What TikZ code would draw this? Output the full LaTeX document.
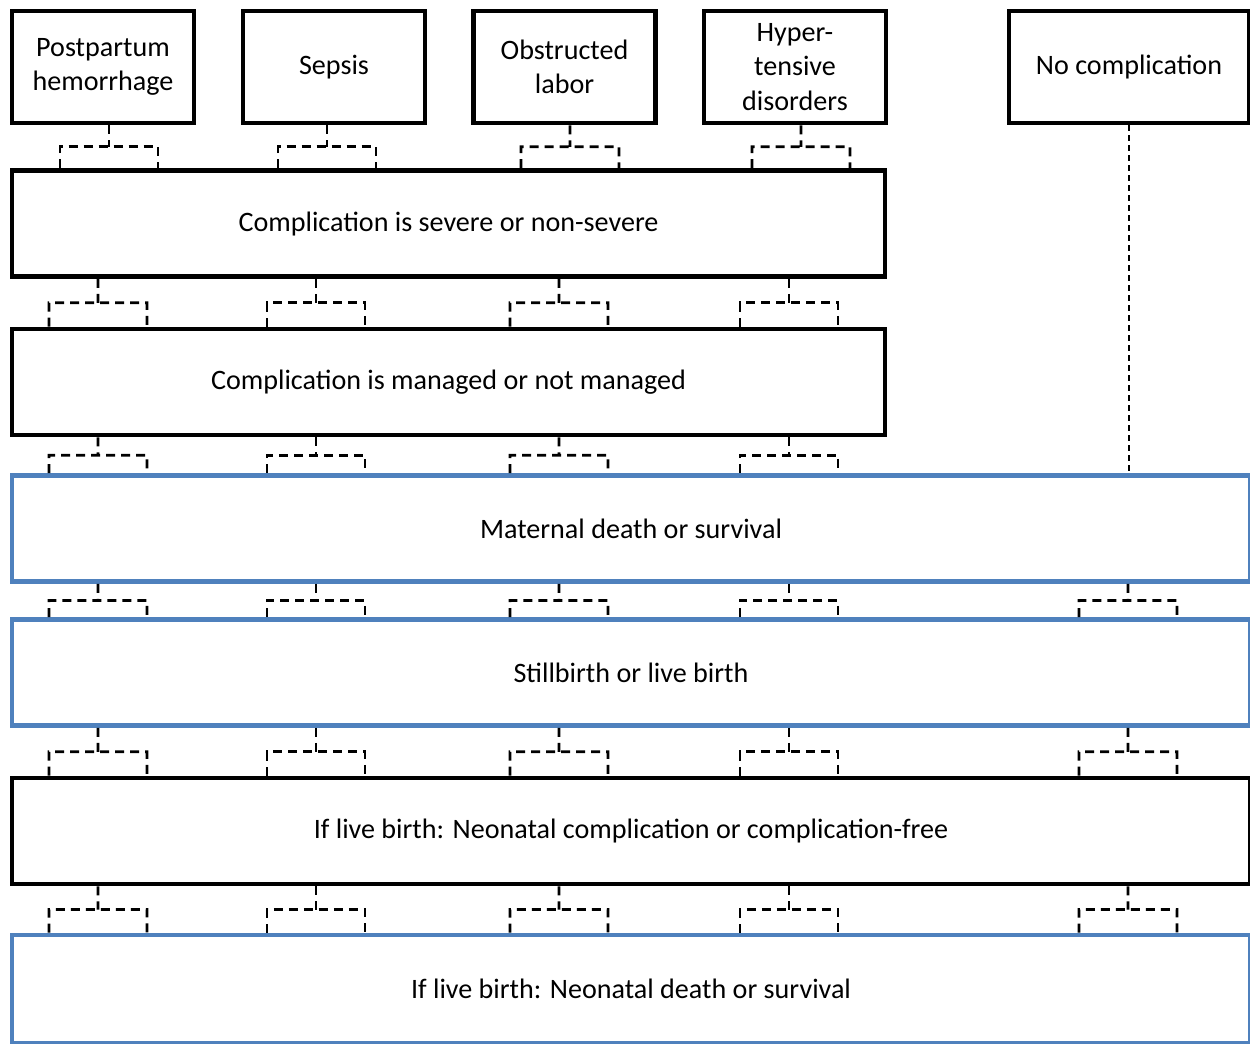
\documentclass[tikz,border=0pt]{standalone}
\usepackage{fontspec}
\setmainfont{Carlito}
\usetikzlibrary{calc}
\definecolor{boxblue}{RGB}{79,129,189}
\begin{document}
\begin{tikzpicture}[box/.style={draw=black,line width=2.6pt,align=center,font=\fontsize{16}{19.5}\selectfont},
topbox/.style={box,minimum width=3.64cm,minimum height=2.24cm},
wideK/.style={box,minimum width=17.46cm,minimum height=2.12cm},
wideB/.style={box,draw=boxblue,minimum width=24.76cm,minimum height=2.12cm},
link/.style={draw=black,line width=1.5pt,dash pattern=on 0.18cm off 0.12cm}]
\def\dw{0.98};
\def\fork#1#2#3{%
\coordinate (m) at ($(#1.south -| #2)!0.5!(#3.north -| #2)$);
\draw[link] (#1.south -| #2) -- (m) ([xshift=-\dw cm]#3.north -| #2) |- (m) -| ([xshift=\dw cm]#3.north -| #2);}

\useasboundingbox (0,0) rectangle (25,-20.86);

\coordinate (t1) at (2.18,0);
\coordinate (t2) at (6.54,0);
\coordinate (t3) at (11.4,0);
\coordinate (t4) at (16.02,0);
\coordinate (s1) at (1.96,0);
\coordinate (s2) at (6.32,0);
\coordinate (s3) at (11.18,0);
\coordinate (s4) at (15.78,0);
\coordinate (s5) at (22.56,0);

\node[topbox] (pph) at (2.06,-1.34) {Postpartum\\hemorrhage};
\node[topbox] (sepsis) at (6.68,-1.34) {Sepsis};
\node[topbox] (obstr) at (11.29,-1.34) {Obstructed\\labor};
\node[topbox] (hyper) at (15.9,-1.34) {Hyper-\\tensive\\disorders};
\node[topbox,minimum width=4.8cm] (nocomp) at (22.58,-1.34) {No complication};

\node[wideK] (severe) at (8.97,-4.47) {Complication is severe or non-severe};
\node[wideK] (managed) at (8.97,-7.64) {Complication is managed or not managed};
\node[wideB] (death) at (12.62,-10.57) {Maternal death or survival};
\node[wideB] (birth) at (12.62,-13.45) {Stillbirth or live birth};
\node[wideB,draw=black] (neocomp) at (12.62,-16.62) {If live birth: Neonatal complication or complication-free};
\node[wideB,minimum height=2.16cm] (neodeath) at (12.62,-19.78) {If live birth: Neonatal death or survival};

\fork{pph}{t1}{severe}
\fork{sepsis}{t2}{severe}
\fork{obstr}{t3}{severe}
\fork{hyper}{t4}{severe}

\fork{severe}{s1}{managed}
\fork{severe}{s2}{managed}
\fork{severe}{s3}{managed}
\fork{severe}{s4}{managed}

\fork{managed}{s1}{death}
\fork{managed}{s2}{death}
\fork{managed}{s3}{death}
\fork{managed}{s4}{death}
\draw[link,dash pattern=on 0.12cm off 0.08cm] (nocomp.south) -- (nocomp.south |- death.north);

\fork{death}{s1}{birth}
\fork{death}{s2}{birth}
\fork{death}{s3}{birth}
\fork{death}{s4}{birth}
\fork{death}{s5}{birth}

\fork{birth}{s1}{neocomp}
\fork{birth}{s2}{neocomp}
\fork{birth}{s3}{neocomp}
\fork{birth}{s4}{neocomp}
\fork{birth}{s5}{neocomp}

\fork{neocomp}{s1}{neodeath}
\fork{neocomp}{s2}{neodeath}
\fork{neocomp}{s3}{neodeath}
\fork{neocomp}{s4}{neodeath}
\fork{neocomp}{s5}{neodeath}
\end{tikzpicture}
\end{document}
